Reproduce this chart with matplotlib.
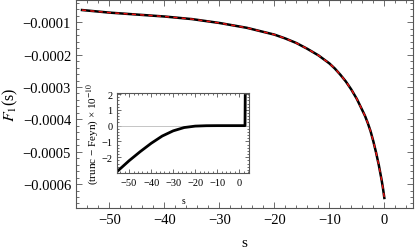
import matplotlib
matplotlib.use("Agg")
import matplotlib.pyplot as plt
from matplotlib.ticker import MultipleLocator, FuncFormatter

plt.rcParams['font.family'] = ['Liberation Serif', 'DejaVu Serif']
plt.rcParams['mathtext.fontset'] = 'stix'

# main curve F1(s) (units of 1e-4)
s_main = [-55, -50, -45, -40, -35, -30, -25, -20, -18, -16, -14, -12, -10, -9, -8, -7, -6, -5,
          -4, -3.5, -3, -2.5, -2, -1.5, -1, -0.5, -0.25, 0]
f1_main = [-0.62, -0.70, -0.76, -0.82, -0.90, -1.02, -1.17, -1.38, -1.50, -1.64, -1.82, -2.02,
           -2.27, -2.43, -2.62, -2.83, -3.08, -3.37, -3.72, -3.90, -4.12, -4.37, -4.68, -5.03,
           -5.42, -5.87, -6.13, -6.43]
f1_main = [v * 1e-4 for v in f1_main]

# inset: (trunc - Feyn) x 1e-10
s_ins = [-55, -50, -45, -40, -35, -30, -25, -20, -15, -10, -5, 0, 2.6, 2.7]
d_ins = [-2.85, -2.22, -1.65, -1.12, -0.66, -0.33, -0.12, -0.03, -0.005, 0, 0, 0, 0, 1.9]

main_yticks = [-0.0001, -0.0002, -0.0003, -0.0004, -0.0005, -0.0006]
main_xticks = [-50, -40, -30, -20, -10, 0]
ins_xticks = [-50, -40, -30, -20, -10, 0]
ins_yticks = [-2, -1, 0, 1, 2]

framecol = '#555555'


def fmt(v, p):
    s = ('%g' % abs(v)) if abs(v) >= 1e-3 or v == 0 else ('%.4f' % abs(v))
    return ('\u2212' + s) if v < 0 else s


def style(ax, size, major, minor):
    for sp in ax.spines.values():
        sp.set_color(framecol)
        sp.set_linewidth(0.8)
    ax.tick_params(which='both', direction='in', top=True, right=True,
                   color=framecol, labelsize=size, width=0.6)
    ax.tick_params(which='major', length=major)
    ax.tick_params(which='minor', length=minor)
    ax.xaxis.set_major_formatter(FuncFormatter(fmt))
    ax.yaxis.set_major_formatter(FuncFormatter(fmt))


fig = plt.figure(figsize=(4.15, 2.53), dpi=100)
ax = fig.add_axes([0.183, 0.174, 0.812, 0.822])
ax.plot(s_main, f1_main, color='black', lw=1.8)
ax.plot(s_main, f1_main, color='#ee1111', lw=1.0, dashes=(3, 3))
ax.set_xlim(-56.1, 5.2)
ax.set_ylim(-0.000674, -0.000031)
ax.set_xticks(main_xticks)
ax.set_yticks(main_yticks)
ax.xaxis.set_minor_locator(MultipleLocator(2))
ax.yaxis.set_minor_locator(MultipleLocator(0.00002))
style(ax, 10.5, 4, 2)
ax.set_xlabel('s', fontsize=11, labelpad=7)
ax.set_ylabel('$F_1$(s)', fontsize=11.5, labelpad=2)

ax2 = fig.add_axes([0.283, 0.311, 0.318, 0.317])
ax2.axhline(0, color='#bbbbbb', lw=0.6)
ax2.plot(s_ins, d_ins, color='black', lw=2.0)
ax2.set_xlim(-55.3, 4.6)
ax2.set_ylim(-3.02, 2.06)
ax2.set_xticks(ins_xticks)
ax2.set_yticks(ins_yticks)
ax2.xaxis.set_minor_locator(MultipleLocator(2))
ax2.yaxis.set_minor_locator(MultipleLocator(0.2))
style(ax2, 7.5, 3, 1.5)
ax2.set_xlabel('s', fontsize=7, labelpad=6)
ax2.set_ylabel('(trunc \u2212 Feyn) \u00d7 10$^{-10}$', fontsize=8, labelpad=1)

fig.savefig('out.png', dpi=100)
